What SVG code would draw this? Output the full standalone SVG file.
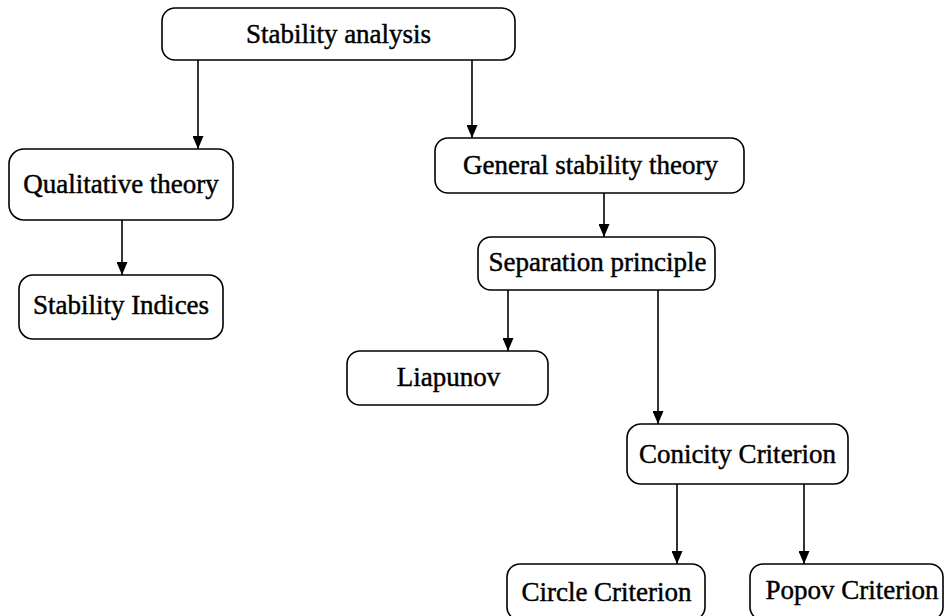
<svg xmlns="http://www.w3.org/2000/svg" width="946" height="616" viewBox="0 0 946 616">
  <defs>
    <marker id="head" markerUnits="userSpaceOnUse" markerWidth="13" markerHeight="11" refX="13" refY="5.5" orient="auto" viewBox="0 0 13 11">
      <path d="M0,0 L13,5.5 L0,11 Z" fill="#000"/>
    </marker>
  </defs>
  <style>
    .box { fill: #fff; stroke: #000; stroke-width: 1.6; }
    .label { font-family: "Liberation Serif", "Times New Roman", serif; font-size: 27px; fill: #000; stroke: #000; stroke-width: 0.45; text-anchor: middle; }
    .edge { fill: none; stroke: #000; stroke-width: 1.6; marker-end: url(#head); }
  </style>
  <rect width="946" height="616" fill="#fff"/>

  <g id="connectors">
    <path class="edge" d="M198,60 V149"/>
    <path class="edge" d="M472,60 V138"/>
    <path class="edge" d="M122,220 V275"/>
    <path class="edge" d="M604,193 V237"/>
    <path class="edge" d="M508,290 V351"/>
    <path class="edge" d="M658,290 V424"/>
    <path class="edge" d="M677,484 V564"/>
    <path class="edge" d="M804,484 V564"/>
  </g>

  <g id="stability-analysis">
    <rect class="box" x="162" y="8" width="353" height="52" rx="13"/>
    <text class="label" x="338.5" y="43">Stability analysis</text>
  </g>
  <g id="qualitative-theory">
    <rect class="box" x="9" y="149" width="224" height="71" rx="15"/>
    <text class="label" x="121" y="193">Qualitative theory</text>
  </g>
  <g id="stability-indices">
    <rect class="box" x="19" y="275" width="204" height="64" rx="14"/>
    <text class="label" x="121" y="314">Stability Indices</text>
  </g>
  <g id="general-stability-theory">
    <rect class="box" x="435" y="138" width="309" height="55" rx="13"/>
    <text class="label" x="590.5" y="174">General stability theory</text>
  </g>
  <g id="separation-principle">
    <rect class="box" x="478" y="237" width="237" height="53" rx="13"/>
    <text class="label" x="597.5" y="271">Separation principle</text>
  </g>
  <g id="liapunov">
    <rect class="box" x="347" y="351" width="201" height="54" rx="13"/>
    <text class="label" x="448.5" y="386">Liapunov</text>
  </g>
  <g id="conicity-criterion">
    <rect class="box" x="627" y="424" width="221" height="60" rx="14"/>
    <text class="label" x="737.5" y="463">Conicity Criterion</text>
  </g>
  <g id="circle-criterion">
    <rect class="box" x="507" y="564" width="198" height="56" rx="13"/>
    <text class="label" x="606.5" y="601">Circle Criterion</text>
  </g>
  <g id="popov-criterion">
    <rect class="box" x="750" y="564" width="193" height="56" rx="13"/>
    <text class="label" x="852" y="599">Popov Criterion</text>
  </g>
</svg>
